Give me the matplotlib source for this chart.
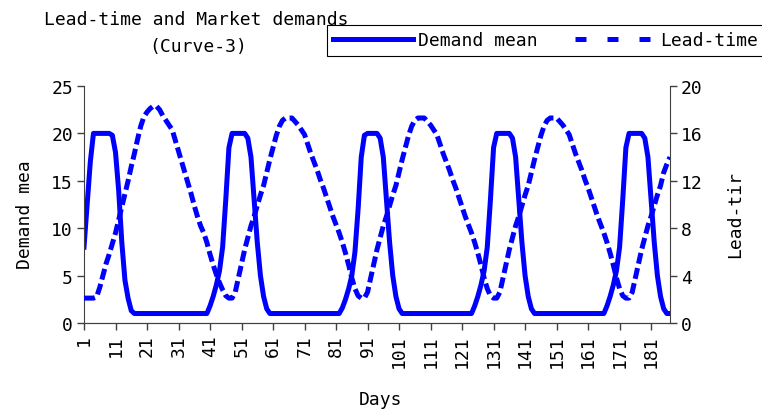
import matplotlib.pyplot as plt
from matplotlib.lines import Line2D

plt.rcParams['font.family'] = ['DejaVu Sans Mono']
plt.rcParams['font.size'] = 13

# one value per day
days = list(range(1, 188))

demand_mean = [
    # days 1-39
    8, 12.5, 17, 20, 20, 20, 20, 20, 20, 19.8,
    18, 14, 8.5, 4.5, 2.6, 1.3, 1, 1, 1, 1,
    1, 1, 1, 1, 1, 1, 1, 1, 1, 1,
    1, 1, 1, 1, 1, 1, 1, 1, 1,
    # days 40-81
    1, 1.8, 2.8, 4, 5.5, 8, 13, 18.5, 20, 20,
    20, 20, 20, 19.5, 17.5, 13, 8.5, 5, 2.8, 1.5,
    1, 1, 1, 1, 1, 1, 1, 1, 1, 1,
    1, 1, 1, 1, 1, 1, 1, 1, 1, 1,
    1, 1,
    # days 82-123
    1, 1.6, 2.5, 3.6, 5, 7.5, 12, 17.5, 19.8, 20,
    20, 20, 20, 19.5, 17.5, 13, 8.5, 5, 2.8, 1.5,
    1, 1, 1, 1, 1, 1, 1, 1, 1, 1,
    1, 1, 1, 1, 1, 1, 1, 1, 1, 1,
    1, 1,
    # days 124-165
    1, 1.8, 2.8, 4, 5.5, 8, 13, 18.5, 20, 20,
    20, 20, 20, 19.5, 17.5, 13, 8.5, 5, 2.8, 1.5,
    1, 1, 1, 1, 1, 1, 1, 1, 1, 1,
    1, 1, 1, 1, 1, 1, 1, 1, 1, 1,
    1, 1,
    # days 166-187
    1, 1.8, 2.8, 4, 5.5, 8, 13, 18.5, 20, 20,
    20, 20, 20, 19.5, 17.5, 13, 8.5, 5, 2.8, 1.5,
    1, 1,
]

lead_time = [
    # days 1-46
    2.1, 2.1, 2.1, 2.1, 2.2, 3.0, 4.0, 5.0, 5.8, 6.7,
    7.6, 8.7, 9.8, 10.9, 12.0, 13.2, 14.3, 15.5, 16.6, 17.4,
    17.8, 18.1, 18.3, 18.3, 18.0, 17.5, 17.1, 16.7, 16.3, 15.4,
    14.5, 13.6, 12.7, 11.8, 10.9, 9.9, 9.0, 8.2, 7.6, 6.8,
    5.8, 4.9, 4.1, 3.4, 2.8, 2.3,
    # days 47-88
    2.1, 2.1, 2.6, 3.8, 5.0, 6.2, 7.2, 8.2, 9.0, 9.9,
    10.8, 11.6, 12.7, 13.8, 14.8, 15.8, 16.6, 17.1, 17.3, 17.3,
    17.3, 17.0, 16.7, 16.3, 15.9, 15.1, 14.3, 13.6, 12.9, 12.1,
    11.4, 10.6, 9.8, 9.0, 8.3, 7.6, 6.8, 5.9, 4.9, 3.8,
    2.9, 2.3,
    # days 89-130
    2.1, 2.1, 2.6, 3.8, 5.0, 6.2, 7.2, 8.2, 9.0, 9.9,
    10.8, 11.6, 12.7, 13.8, 14.8, 15.8, 16.6, 17.1, 17.3, 17.3,
    17.3, 17.0, 16.7, 16.3, 15.9, 15.1, 14.3, 13.6, 12.9, 12.1,
    11.4, 10.6, 9.8, 9.0, 8.3, 7.6, 6.8, 5.9, 4.9, 3.8,
    2.9, 2.3,
    # days 131-172
    2.1, 2.1, 2.6, 3.8, 5.0, 6.2, 7.2, 8.2, 9.0, 9.9,
    10.8, 11.6, 12.7, 13.8, 14.8, 15.8, 16.6, 17.1, 17.3, 17.3,
    17.3, 17.0, 16.7, 16.3, 15.9, 15.1, 14.3, 13.6, 12.9, 12.1,
    11.4, 10.6, 9.8, 9.0, 8.3, 7.6, 6.8, 5.9, 4.9, 3.8,
    2.9, 2.3,
    # days 173-187
    2.1, 2.1, 2.6, 3.8, 5.0, 6.2, 7.2, 8.2, 9.0, 9.9,
    10.8, 11.6, 12.7, 13.4, 14.0,
]

blue = '#0000ff'
axis_col = '#404040'

fig = plt.figure(figsize=(7.62, 4.10), dpi=100)
ax = fig.add_axes([84/762, 86/410, 586/762, 237/410])
ax2 = ax.twinx()

ax.plot(days, demand_mean, color=blue, lw=3.6, solid_joinstyle='round')
ax2.plot(days, lead_time, color=blue, lw=3.6, linestyle=(0, (2.2, 0.9)), dash_capstyle='butt')

ax.set_xlim(1, 187)
ax.set_ylim(0, 25)
ax.set_yticks(range(0, 26, 5))
ax2.set_ylim(0, 20)
ax2.set_yticks(range(0, 21, 4))
ax.set_xticks(range(1, 188, 10))
ax.tick_params(axis='x', rotation=90)

for a in (ax, ax2):
    a.spines['top'].set_visible(False)
    for s in a.spines.values():
        s.set_color(axis_col)
    a.tick_params(direction='out', length=5, width=1, color=axis_col, pad=3)
ax.spines['right'].set_visible(False)
ax2.spines['left'].set_visible(False)

fig.text(196/762, 1 - 20/410, 'Lead-time and Market demands', ha='center', va='center')
fig.text(198/762, 1 - 47/410, '(Curve-3)', ha='center', va='center')
fig.text(25/762, 1 - 215/410, 'Demand mea', rotation=90, ha='center', va='center')
fig.text(735/762, 1 - 215/410, 'Lead-tir', rotation=90, ha='center', va='center')
fig.text(380/762, 1 - 400/410, 'Days', ha='center', va='center')

# legend box runs just past the right edge, as in the original
handles = [Line2D([], [], color=blue, lw=3.6),
           Line2D([], [], color=blue, lw=3.6, linestyle=(0, (2.2, 4.2)), dash_capstyle='butt')]
top = 1 - 26/410
leg = fig.legend(handles, ['Demand mean', 'Lead-time'], loc='upper left',
                 bbox_to_anchor=(327/762, 0.5, 437/762, top - 0.5), mode='expand',
                 ncol=2, frameon=True, fancybox=False, edgecolor='black', framealpha=1,
                 handlelength=4.4, handletextpad=0.3, columnspacing=0.5,
                 borderpad=0.35, borderaxespad=0)
leg.get_frame().set_linewidth(0.8)

fig.savefig('out.png', dpi=100)
